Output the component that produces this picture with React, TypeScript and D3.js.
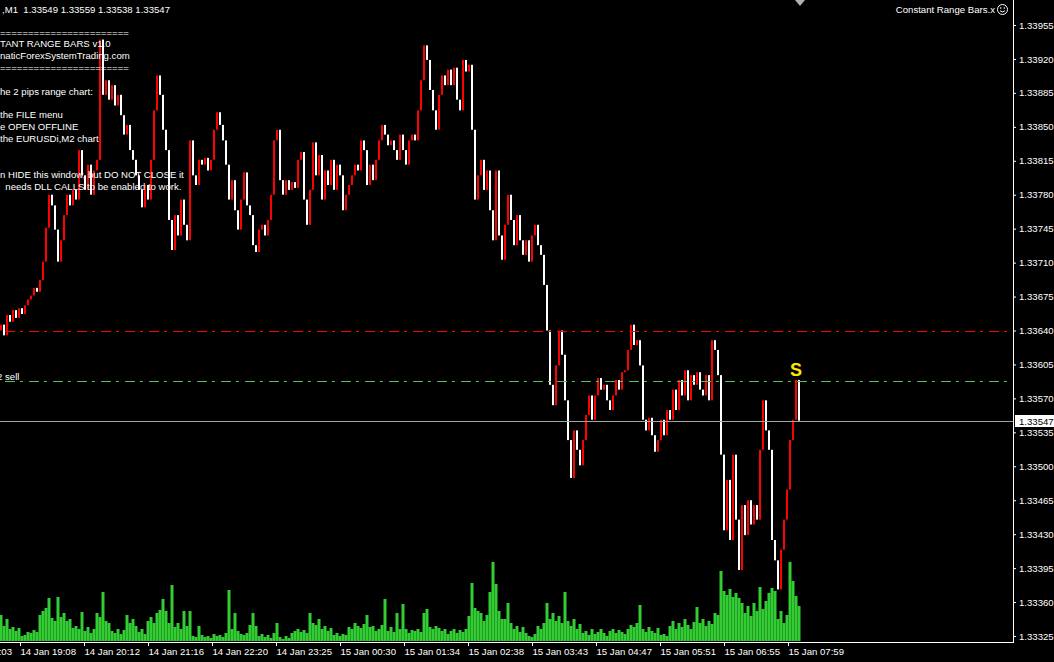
import React, { useEffect, useRef } from 'react';
import * as d3 from 'd3';

// closes in points above 1.33000, one bar per 3 chart slots (open = previous close)
const closes = [
  646, 635, 656, 649, 661, 653, 663, 657, 666, 672, 676, 684, 680, 692, 711, 746, 780, 769, 744, 711,
  733, 759, 780, 769, 785, 775, 826, 800, 785, 811, 780, 805, 816, 940, 883, 898, 878, 893, 872, 883,
  862, 842, 852, 826, 816, 800, 785, 767, 790, 775, 816, 867, 903, 883, 847, 826, 754, 723, 759, 738,
  775, 749, 733, 836, 800, 790, 816, 811, 818, 805, 816, 847, 865, 852, 836, 811, 775, 795, 764, 744,
  775, 803, 769, 759, 728, 721, 744, 749, 738, 754, 780, 836, 847, 795, 780, 795, 785, 793, 787, 816,
  824, 775, 749, 785, 834, 800, 821, 775, 805, 790, 816, 785, 811, 800, 764, 780, 790, 800, 811, 805,
  836, 826, 790, 811, 795, 816, 836, 852, 842, 831, 836, 826, 816, 842, 826, 811, 836, 842, 836, 867,
  898, 934, 919, 888, 867, 847, 883, 903, 893, 909, 893, 911, 878, 867, 919, 907, 914, 847, 775, 800,
  816, 785, 805, 764, 733, 805, 738, 713, 749, 780, 754, 728, 759, 733, 718, 733, 711, 738, 749, 728,
  718, 687, 640, 584, 563, 604, 640, 615, 568, 527, 488, 537, 517, 501, 527, 553, 573, 548, 573, 591,
  579, 584, 568, 558, 573, 589, 579, 597, 599, 620, 646, 625, 630, 604, 548, 537, 550, 532, 515, 527,
  548, 532, 558, 548, 579, 558, 589, 573, 599, 568, 594, 584, 597, 579, 573, 594, 568, 630, 620, 594,
  512, 434, 486, 424, 512, 445, 393, 460, 429, 465, 440, 460, 445, 517, 568, 537, 517, 424, 403, 373,
  414, 445, 476, 527, 548, 589, 547,
];
const firstOpen = 640;

const volumes = [
  26, 15, 22, 12, 14, 10, 13, 5, 6, 9, 8, 11, 9, 26, 30, 33, 43, 23, 20, 44,
  24, 28, 20, 22, 13, 15, 12, 29, 10, 14, 8, 12, 28, 24, 49, 20, 18, 10, 8, 12,
  7, 11, 26, 18, 22, 15, 9, 12, 7, 20, 24, 18, 28, 31, 42, 30, 18, 56, 14, 18,
  12, 30, 15, 30, 5, 4, 15, 6, 4, 5, 3, 7, 5, 6, 4, 8, 51, 12, 28, 10,
  7, 6, 8, 16, 28, 15, 5, 7, 4, 6, 3, 8, 18, 4, 2, 5, 3, 8, 10, 12,
  9, 11, 8, 28, 18, 16, 22, 12, 15, 10, 13, 6, 8, 5, 7, 6, 14, 12, 18, 15,
  13, 17, 26, 14, 15, 10, 12, 16, 42, 10, 14, 9, 28, 12, 37, 12, 8, 11, 10, 12,
  9, 28, 32, 14, 12, 15, 13, 10, 12, 7, 10, 12, 8, 11, 9, 12, 25, 58, 33, 30,
  28, 20, 26, 49, 79, 57, 30, 22, 22, 38, 18, 12, 15, 9, 14, 8, 5, 4, 7, 15,
  12, 18, 38, 22, 28, 20, 25, 18, 49, 20, 15, 22, 12, 17, 8, 10, 6, 12, 7, 9,
  12, 8, 5, 10, 12, 8, 11, 9, 7, 12, 16, 14, 18, 36, 12, 9, 14, 10, 8, 13,
  6, 7, 5, 15, 20, 12, 18, 14, 22, 16, 12, 19, 34, 18, 22, 15, 20, 17, 28, 26,
  70, 50, 46, 52, 44, 48, 43, 38, 28, 35, 25, 38, 30, 54, 32, 40, 48, 53, 50, 22,
  30, 18, 26, 79, 60, 45, 35,
];

const priceTicks = [
  1.33955, 1.3392, 1.33885, 1.3385, 1.33815, 1.3378, 1.33745, 1.3371, 1.33675, 1.3364,
  1.33605, 1.3357, 1.33535, 1.335, 1.33465, 1.3343, 1.33395, 1.3336, 1.33325,
];

const timeLabels = [
  '14 Jan 18:03', '14 Jan 19:08', '14 Jan 20:12', '14 Jan 21:16', '14 Jan 22:20', '14 Jan 23:25',
  '15 Jan 00:30', '15 Jan 01:34', '15 Jan 02:38', '15 Jan 03:43', '15 Jan 04:47', '15 Jan 05:51',
  '15 Jan 06:55', '15 Jan 07:59',
];

const infoLines = [
  '=======================',
  'TANT RANGE BARS v1.0',
  'naticForexSystemTrading.com',
  '=======================',
  '',
  'he 2 pips range chart:',
  '',
  'the FILE menu',
  'e OPEN OFFLINE',
  'the EURUSDi,M2 chart',
  '',
  '',
  'n HIDE this window, but DO NOT CLOSE it',
  '  needs DLL CALLS to be enabled to work.',
];

const headerText = ',M1  1.33549 1.33559 1.33538 1.33547';
const indicatorName = 'Constant Range Bars.x';

const levels = [
  { price: 1.3364, color: '#FF0000', label: '' },
  { price: 1.33588, color: '#4FBF4F', label: '2 sell' },
];
const bid = 1.33547;
const signalBar = 265;

const W = 1054;
const H = 662;
const plotRight = 1013;
const plotBottom = 642;
const font = "'Liberation Sans', Arial, sans-serif";
const fs = 9.6;
const toPrice = (p: number) => 1.33 + p / 1e5;

export default function App() {
  const svgRef = useRef<SVGSVGElement>(null);

  useEffect(() => {
    if (!svgRef.current) return;
    const svg = d3.select(svgRef.current);
    svg.selectAll('*').remove();

    svg.append('rect').attr('width', W).attr('height', H).attr('fill', '#000');

    // Scales
    const y = d3.scaleLinear().domain([1.33325, 1.33955]).range([636, 25]);
    const x = d3.scaleLinear().domain([0, closes.length - 1]).range([1, 799]);
    const v = d3.scaleLinear().domain([0, 80]).range([plotBottom - 1, plotBottom - 81]);
    const barsPerLabel = 64 / 3;
    const firstLabelBar = -15;

    svg.append('defs').append('clipPath').attr('id', 'plot-clip')
      .append('rect').attr('width', plotRight).attr('height', plotBottom);

    const plot = svg.append('g').attr('clip-path', 'url(#plot-clip)');

    // Volumes
    plot.append('g').selectAll('rect').data(volumes).join('rect')
      .attr('x', (_, i) => x(i) - 1.5)
      .attr('width', 3)
      .attr('y', d => v(d))
      .attr('height', d => v(0) - v(d))
      .attr('fill', '#32CD32');

    // Bars
    const bars = closes.map((c, i) => ({ open: i ? closes[i - 1] : firstOpen, close: c }));
    plot.append('g').selectAll('rect').data(bars).join('rect')
      .attr('x', (_, i) => x(i) - 1)
      .attr('width', 2)
      .attr('y', d => y(toPrice(Math.max(d.open, d.close))))
      .attr('height', d => Math.max(1, Math.abs(y(toPrice(d.open)) - y(toPrice(d.close)))))
      .attr('fill', d => (d.close > d.open ? '#FF0000' : '#FFFFFF'));

    // Level lines
    levels.forEach(l => {
      plot.append('line')
        .attr('x1', 0).attr('x2', plotRight - 3)
        .attr('y1', Math.round(y(l.price)) + 0.5).attr('y2', Math.round(y(l.price)) + 0.5)
        .attr('stroke', l.color)
        .attr('stroke-dasharray', '10,5,3,6')
        .attr('stroke-dashoffset', 19);
      if (l.label) {
        plot.append('text')
          .attr('x', -3).attr('y', Math.round(y(l.price)) - 1.5)
          .attr('fill', '#fff').attr('font-family', font).attr('font-size', fs)
          .text(l.label);
      }
    });

    // Bid line
    plot.append('line')
      .attr('x1', 0).attr('x2', plotRight)
      .attr('y1', Math.round(y(bid)) + 0.5).attr('y2', Math.round(y(bid)) + 0.5)
      .attr('stroke', '#9CA3AA');

    // Signal
    const sig = bars[signalBar];
    plot.append('text')
      .attr('x', x(signalBar)).attr('y', y(toPrice(Math.max(sig.open, sig.close))) - 4)
      .attr('text-anchor', 'middle')
      .attr('fill', '#FFE600').attr('font-family', font).attr('font-weight', 'bold').attr('font-size', 18)
      .text('S');

    // Info text
    const info = plot.append('g').attr('fill', '#fff').attr('font-family', font).attr('font-size', fs);
    infoLines.forEach((t, i) => {
      if (!t) return;
      info.append('text').attr('x', 0).attr('y', 35.5 + i * 11.85)
        .style('white-space', 'pre').text(t);
    });
    svg.append('text').attr('x', 2).attr('y', 12.5)
      .attr('fill', '#fff').attr('font-family', font).attr('font-size', fs)
      .style('white-space', 'pre').text(headerText);
    svg.append('text').attr('x', 995).attr('y', 13).attr('text-anchor', 'end')
      .attr('fill', '#fff').attr('font-family', font).attr('font-size', fs)
      .text(indicatorName);

    // smiley
    const sm = svg.append('g').attr('transform', 'translate(1002.5,9.5)');
    sm.append('circle').attr('r', 5).attr('fill', 'none').attr('stroke', '#fff');
    sm.append('circle').attr('cx', -1.8).attr('cy', -1.5).attr('r', 0.8).attr('fill', '#fff');
    sm.append('circle').attr('cx', 1.8).attr('cy', -1.5).attr('r', 0.8).attr('fill', '#fff');
    sm.append('path').attr('d', 'M-2.5,1.2 Q0,3.8 2.5,1.2').attr('fill', 'none').attr('stroke', '#fff');

    // chart shift marker
    const mx = x(closes.length - 1) + 1;
    svg.append('path').attr('d', `M${mx - 5},0 L${mx + 5},0 L${mx},6 Z`).attr('fill', '#B0B0B0');

    // Price axis
    svg.append('line').attr('x1', plotRight + 0.5).attr('x2', plotRight + 0.5)
      .attr('y1', 0).attr('y2', plotBottom + 1).attr('stroke', '#fff');
    svg.append('g')
      .attr('transform', `translate(${plotRight},0)`)
      .call(d3.axisRight(y).tickValues(priceTicks).tickSize(3).tickPadding(3).tickFormat(d => (+d).toFixed(5)))
      .call(g => g.select('.domain').remove())
      .call(g => g.selectAll('.tick line').attr('stroke', '#fff'))
      .call(g => g.selectAll('.tick text').attr('fill', '#fff').attr('font-family', font).attr('font-size', fs));

    // bid label
    svg.append('rect').attr('x', 1015).attr('y', Math.round(y(bid)) - 6).attr('width', W - 1015).attr('height', 12)
      .attr('fill', '#fff');
    svg.append('text').attr('x', 1019).attr('y', Math.round(y(bid)) + 3.5)
      .attr('fill', '#000').attr('font-family', font).attr('font-size', fs)
      .text(bid.toFixed(5));

    // Time axis
    svg.append('line').attr('x1', 0).attr('x2', plotRight + 1)
      .attr('y1', plotBottom + 0.5).attr('y2', plotBottom + 0.5).attr('stroke', '#fff');
    const labelBars = timeLabels.map((_, i) => firstLabelBar + i * barsPerLabel);
    svg.append('g')
      .attr('transform', `translate(0,${plotBottom})`)
      .call(d3.axisBottom(x).tickValues(labelBars).tickSize(4).tickPadding(2)
        .tickFormat((_, i) => timeLabels[i]))
      .call(g => g.select('.domain').remove())
      .call(g => g.selectAll('.tick line').attr('stroke', '#fff'))
      .call(g => g.selectAll('.tick text').attr('fill', '#fff').attr('font-family', font).attr('font-size', fs)
        .attr('text-anchor', 'start'));
  }, []);

  return (
    <div>
      <style>{'body{margin:0;background:#000;overflow:hidden}'}</style>
      <svg ref={svgRef} width={W} height={H} style={{ display: 'block' }} />
    </div>
  );
}
